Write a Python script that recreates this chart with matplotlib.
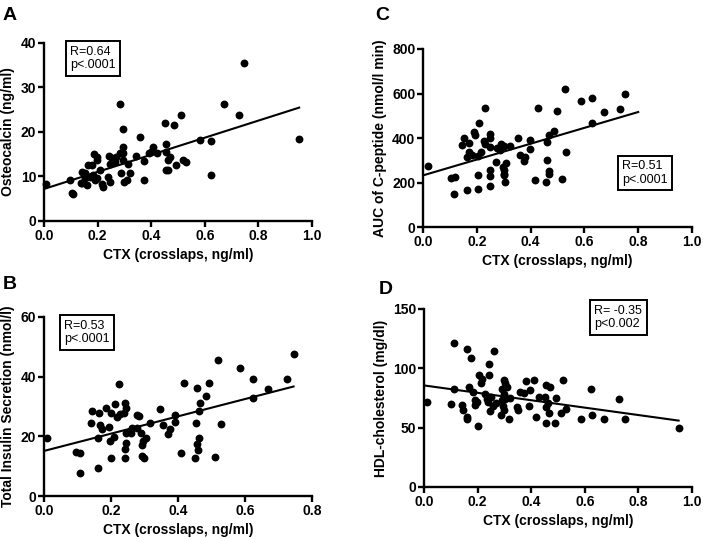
import matplotlib
matplotlib.use("Agg")
import matplotlib.pyplot as plt
import numpy as np

plt.rcParams['font.family'] = ['Liberation Sans', 'DejaVu Sans']

# panel A: CTX vs osteocalcin
a_x = [0.009, 0.098, 0.106, 0.108, 0.143, 0.138, 0.283, 0.748, 0.95, 0.67, 0.726, 0.623, 0.623,
       0.583, 0.511, 0.484, 0.451, 0.454, 0.493, 0.52, 0.53, 0.47, 0.464, 0.454, 0.464, 0.456,
       0.408, 0.39, 0.42, 0.374, 0.373, 0.345, 0.357, 0.32, 0.315, 0.296, 0.293, 0.295, 0.293,
       0.289, 0.298, 0.308, 0.265, 0.242, 0.245, 0.255, 0.239, 0.245, 0.221, 0.216, 0.208,
       0.196, 0.196, 0.186, 0.178, 0.166, 0.171, 0.162, 0.14, 0.19, 0.198, 0.183, 0.152, 0.27,
       0.283, 0.153, 0.40]
a_y = [8.3, 9.2, 6.4, 6.0, 10.9, 8.6, 26.4, 35.4, 18.5, 26.2, 23.9, 10.3, 18.0,
       18.3, 23.9, 21.5, 22.1, 17.4, 12.6, 13.7, 13.2, 14.4, 13.7, 11.4, 11.4, 15.6,
       16.7, 15.3, 15.2, 13.5, 9.2, 14.7, 18.8, 10.7, 12.9, 20.6, 16.7, 15.2, 13.7,
       10.7, 8.8, 9.2, 13.3, 14.7, 12.9, 14.1, 9.9, 8.8, 7.6, 8.3, 11.4,
       13.7, 14.4, 15.0, 12.6, 12.6, 9.9, 8.1, 8.6, 9.2, 9.6, 10.3, 9.6, 14.4,
       15.2, 10.7, 15.6]

# panel B: CTX vs total insulin secretion
b_x = [0.01, 0.097, 0.107, 0.107, 0.14, 0.144, 0.165, 0.16, 0.184, 0.2, 0.212, 0.224, 0.218,
       0.241, 0.238, 0.245, 0.226, 0.172, 0.161, 0.167, 0.193, 0.196, 0.209, 0.2, 0.241,
       0.241, 0.246, 0.244, 0.259, 0.264, 0.279, 0.284, 0.279, 0.291, 0.296, 0.294, 0.293,
       0.298, 0.303, 0.316, 0.346, 0.354, 0.371, 0.376, 0.391, 0.391, 0.409, 0.419, 0.452,
       0.454, 0.456, 0.458, 0.461, 0.463, 0.464, 0.466, 0.484, 0.494, 0.511, 0.518, 0.528,
       0.584, 0.623, 0.623, 0.668, 0.725, 0.745]
b_y = [19.3, 14.9, 14.3, 7.8, 24.6, 28.5, 27.7, 9.5, 29.6, 27.7, 30.7, 37.7, 26.6,
       31.3, 27.9, 29.6, 27.4, 22.3, 19.6, 23.9, 23.2, 18.4, 19.8, 12.8, 15.6,
       12.8, 17.9, 21.0, 21.0, 22.9, 27.0, 26.8, 22.9, 21.0, 18.4, 17.1, 13.4,
       12.6, 19.6, 24.6, 29.1, 23.8, 20.9, 22.6, 27.0, 24.8, 14.3, 38.0, 12.8,
       24.6, 17.5, 36.1, 15.3, 28.5, 19.6, 31.1, 33.5, 37.8, 13.1, 45.5, 24.2,
       43.0, 39.3, 33.0, 35.8, 39.3, 47.5]

# panel C: CTX vs AUC of C-peptide
c_x = [0.017, 0.105, 0.118, 0.117, 0.145, 0.151, 0.164, 0.17, 0.17, 0.164, 0.182, 0.19, 0.194,
       0.204, 0.204, 0.206, 0.208, 0.217, 0.226, 0.229, 0.232, 0.248, 0.248, 0.248, 0.25,
       0.248, 0.248, 0.27, 0.275, 0.289, 0.285, 0.3, 0.299, 0.3, 0.302, 0.304, 0.31, 0.322,
       0.302, 0.353, 0.361, 0.376, 0.38, 0.397, 0.397, 0.415, 0.426, 0.457, 0.461, 0.461,
       0.467, 0.47, 0.47, 0.488, 0.498, 0.517, 0.527, 0.533, 0.587, 0.628, 0.628, 0.674,
       0.731, 0.752]
c_y = [274, 222, 225, 147, 367, 400, 165, 378, 337, 315, 322, 427, 412,
       319, 232, 172, 467, 337, 387, 372, 535, 418, 400, 360, 255,
       228, 183, 292, 355, 372, 345, 364, 270, 240, 232, 202, 289, 364,
       255, 401, 322, 297, 315, 390, 349, 210, 535, 202, 382, 300,
       252, 237, 412, 431, 520, 214, 622, 337, 565, 581, 469, 517,
       530, 599]

# panel D: CTX vs HDL-cholesterol
d_x = [0.012, 0.1, 0.112, 0.112, 0.14, 0.146, 0.159, 0.161, 0.161, 0.167, 0.174, 0.184, 0.19,
       0.19, 0.196, 0.2, 0.204, 0.211, 0.218, 0.227, 0.234, 0.24, 0.243, 0.243, 0.246, 0.25,
       0.256, 0.262, 0.27, 0.287, 0.292, 0.298, 0.302, 0.304, 0.298, 0.292, 0.296, 0.3,
       0.308, 0.32, 0.317, 0.348, 0.352, 0.358, 0.372, 0.379, 0.392, 0.394, 0.411, 0.419,
       0.428, 0.453, 0.457, 0.457, 0.457, 0.463, 0.466, 0.47, 0.488, 0.493, 0.511, 0.519,
       0.529, 0.584, 0.625, 0.627, 0.671, 0.728, 0.749, 0.95]
d_y = [71.5, 70, 82.5, 121, 69, 65, 59, 57, 116, 84, 109, 80, 73,
       69, 71.5, 51, 94, 88, 91, 78.5, 74, 71.5, 104, 94, 64, 76,
       68, 114.5, 71, 61, 83, 90.5, 88, 74.5, 78, 73, 68, 64.5,
       84.5, 75, 57.5, 67, 64.5, 80, 79, 89, 68, 82, 90, 59,
       76, 76, 86, 54, 67, 71, 62, 84.5, 54, 75, 62, 90,
       66, 57, 83, 61, 57, 74, 57, 50]

# linear fits: (intercept, slope, x end)
fits = {'A': (7.2, 19.2, 0.952), 'B': (15.1, 29.0, 0.745),
        'C': (232, 356, 0.80), 'D': (85.6, -31.2, 0.95)}
stats = {'A': 'R=0.64\np<.0001', 'B': 'R=0.53\np<.0001',
         'C': 'R=0.51\np<.0001', 'D': 'R= -0.35\np<0.002'}
ylabels = {'A': 'Osteocalcin (ng/ml)', 'B': 'Total Insulin Secretion (nmol/l)',
           'C': 'AUC of C-peptide (nmol/l min)', 'D': 'HDL-cholesterol (mg/dl)'}

W, H = 703, 538
fig = plt.figure(figsize=(W / 100, H / 100), dpi=100)

def px_axes(l, t, r, b):
    return fig.add_axes([l / W, 1 - b / H, (r - l) / W, (b - t) / H])

panels = {
    'A': dict(box=(44, 43, 312, 221), x=a_x, y=a_y, xlim=1.0, ylim=40, ystep=10,
              xticks=np.arange(0, 1.01, 0.2), stat=(0.097, 0.985), letter=(3, 20)),
    'C': dict(box=(423, 49, 692, 227), x=c_x, y=c_y, xlim=1.0, ylim=800, ystep=200,
              xticks=np.arange(0, 1.01, 0.2), stat=(0.74, 0.375), letter=(375, 20)),
    'B': dict(box=(44, 317, 312, 496), x=b_x, y=b_y, xlim=0.8, ylim=60, ystep=20,
              xticks=np.arange(0, 0.81, 0.2), stat=(0.076, 0.985), letter=(3, 289)),
    'D': dict(box=(424, 309, 692, 487), x=d_x, y=d_y, xlim=1.0, ylim=150, ystep=50,
              xticks=np.arange(0, 1.01, 0.2), stat=(0.636, 1.025), letter=(379, 294)),
}

for key, p in panels.items():
    ax = px_axes(*p['box'])
    ax.scatter(p['x'], p['y'], s=32, color='black', clip_on=False, zorder=3, linewidths=0)
    b0, b1, xe = fits[key]
    xs = np.array([0, xe])
    ax.plot(xs, b0 + b1 * xs, color='black', lw=1.5)
    ax.set_xlim(0, p['xlim'])
    ax.set_ylim(0, p['ylim'])
    ax.set_xticks(p['xticks'])
    ax.set_xticklabels(['%.1f' % v for v in p['xticks']])
    ax.set_yticks(np.arange(0, p['ylim'] + 1, p['ystep']))
    for s in ['top', 'right']:
        ax.spines[s].set_visible(False)
    for s in ['left', 'bottom']:
        ax.spines[s].set_linewidth(1.7)
    ax.tick_params(width=1.7, length=4, labelsize=10, pad=1.5)
    for lab in ax.get_xticklabels() + ax.get_yticklabels():
        lab.set_fontweight('bold')
    ax.set_xlabel('CTX (crosslaps, ng/ml)', fontsize=10, fontweight='bold', labelpad=4)
    ax.set_ylabel(ylabels[key], fontsize=10, fontweight='bold', labelpad=4)
    ax.text(p['stat'][0], p['stat'][1], stats[key], transform=ax.transAxes,
            fontsize=9, va='top', ha='left', linespacing=1.2,
            bbox=dict(boxstyle='square,pad=0.35', fc='white', ec='black', lw=1.4))
    fig.text(p['letter'][0] / W, 1 - p['letter'][1] / H, key, fontsize=14,
             fontweight='bold', ha='left', va='baseline')

fig.savefig('out.png', dpi=100)
